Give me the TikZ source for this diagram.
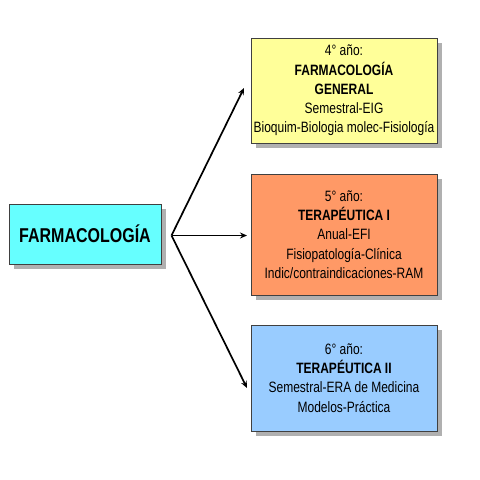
\documentclass[tikz,border=0pt]{standalone}
\usepackage{fontspec}
\setmainfont{Liberation Sans}[FakeStretch=0.8]
\usetikzlibrary{shadows,arrows.meta}
\definecolor{cyanbox}{HTML}{66FFFF}
\definecolor{yellowbox}{HTML}{FFFF99}
\definecolor{orangebox}{HTML}{FF9966}
\definecolor{bluebox}{HTML}{99CCFF}
\definecolor{shadowgray}{HTML}{B0B0B0}
\begin{document}
\begin{tikzpicture}[x=1pt,y=-1pt,
  box/.style={draw=black!75, line width=0.8pt, rectangle, align=center, inner sep=0pt,
    drop shadow={shadow xshift=5pt, shadow yshift=-5pt, fill=shadowgray, opacity=1}},
  rtext/.style={font=\fontsize{15}{19.3}\selectfont},
  conn/.style={-{Stealth[length=7pt,width=6pt]}, line width=1.7pt, black}]
\useasboundingbox (0,0) rectangle (480,480);
\node[box, fill=cyanbox, minimum width=152pt, minimum height=60pt,
  font=\fontsize{20}{22}\selectfont\bfseries] (main) at (85,234) {FARMACOLOGÍA};
\node[box, fill=yellowbox, minimum width=186pt, minimum height=105pt, rtext] (y4) at (344,90.5)
  {4° año:\\\textbf{FARMACOLOGÍA}\\\textbf{GENERAL}\\Semestral-EIG\\Bioquim-Biologia molec-Fisiología};
\node[box, fill=orangebox, minimum width=186pt, minimum height=121pt, rtext] (y5) at (344,234.5)
  {5° año:\\\textbf{TERAPÉUTICA I}\\Anual-EFI\\Fisiopatología-Clínica\\Indic/contraindicaciones-RAM};
\node[box, fill=bluebox, minimum width=186pt, minimum height=106pt, rtext] (y6) at (344,378)
  {6° año:\\\textbf{TERAPÉUTICA II}\\Semestral-ERA de Medicina\\Modelos-Práctica};
\coordinate (v) at (171.5,235.5);
\coordinate (t4) at (244,88);
\coordinate (t5) at (247,235.5);
\coordinate (t6) at (247,388);
\draw[conn] (v) -- (t4);
\draw[conn] (v) -- (t5);
\draw[conn] (v) -- (t6);
\end{tikzpicture}
\end{document}
